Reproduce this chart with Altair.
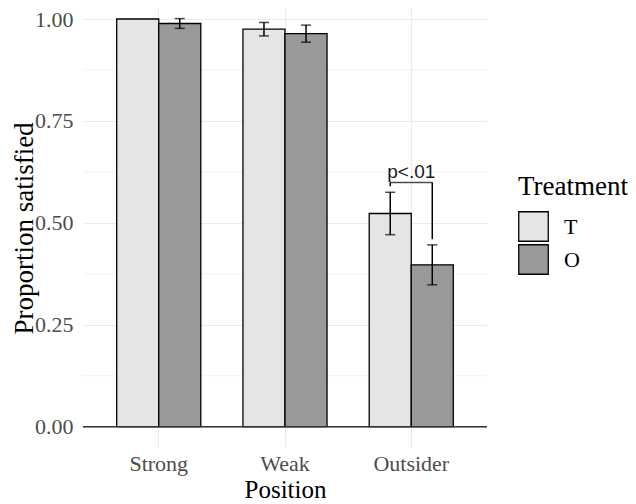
import altair as alt
import pandas as pd

positions = ["Strong", "Weak", "Outsider"]
treatments = ["T", "O"]
prop_T = [1.000, 0.975, 0.523]
prop_O = [0.989, 0.964, 0.397]
se_T = [0.0, 0.0165, 0.052]
se_O = [0.012, 0.021, 0.049]
fills = ["#e5e5e5", "#999999"]
y_ticks = [0.0, 0.25, 0.5, 0.75, 1.0]
y_minor = [0.125, 0.375, 0.625, 0.875]
bracket_top = 0.599
bracket_legs = [0.590, 0.460]
p_label = "p<.01"
p_label_y = 0.609

rows = []
for i, pos in enumerate(positions):
    rows.append({"Position": pos, "Treatment": "T", "prop": prop_T[i],
                 "ymin": prop_T[i] - se_T[i], "ymax": prop_T[i] + se_T[i], "se": se_T[i]})
    rows.append({"Position": pos, "Treatment": "O", "prop": prop_O[i],
                 "ymin": prop_O[i] - se_O[i], "ymax": prop_O[i] + se_O[i], "se": se_O[i]})
df = pd.DataFrame(rows)
err = df[df["se"] > 0]

SERIF = "Liberation Serif"
yscale = alt.Scale(domain=[-0.0498, 1.027], nice=False, zero=False)
xscale = alt.Scale(domain=positions, paddingInner=0.334, paddingOuter=0.267)
oscale = alt.Scale(domain=treatments, paddingInner=0, paddingOuter=0)
yaxis = alt.Axis(values=y_ticks, format=".2f", grid=True, gridColor="#ebebeb", gridWidth=1.1,
                 domain=False, ticks=False, tickSize=0, labelPadding=10,
                 labelFont=SERIF, labelFontSize=22, labelColor="#4d4d4d",
                 titleFont=SERIF, titleFontSize=27, titleFontWeight="normal",
                 titleColor="black", titleX=-51, titleY=220, titleAngle=270,
                 titleAlign="center", titleBaseline="alphabetic")
xaxis = alt.Axis(grid=True, gridColor="#ebebeb", gridWidth=1.1, bandPosition=0.5,
                 domain=False, ticks=False, tickSize=0, labelPadding=6, labelAngle=0,
                 labelFont=SERIF, labelFontSize=22, labelColor="#4d4d4d",
                 titleFont=SERIF, titleFontSize=25, titleFontWeight="normal",
                 titleColor="black", titleY=50, titleX=202, titleAlign="center",
                 titleBaseline="alphabetic")

def X():
    return alt.X("Position:N", scale=xscale, axis=xaxis, title="Position")

def Y(field):
    return alt.Y(field, scale=yscale, axis=yaxis, title="Proportion satisfied")

minor = alt.Chart(pd.DataFrame({"v": y_minor})).mark_rule(color="#efefef", strokeWidth=0.8).encode(
    y=Y("v:Q"))

bars = alt.Chart(df).mark_bar(stroke="black", strokeWidth=1.3).encode(
    x=X(),
    xOffset=alt.XOffset("Treatment:N", scale=oscale),
    y=Y("prop:Q"),
    y2=alt.datum(0),
    fill=alt.Fill("Treatment:N", scale=alt.Scale(domain=treatments, range=fills),
                  legend=alt.Legend(orient="none", legendX=435, legendY=166,
                                    title="Treatment", titleFont=SERIF, titleFontSize=27,
                                    titleFontWeight="normal", titleColor="black",
                                    titlePadding=10,
                                    labelFont=SERIF, labelFontSize=22, labelColor="black",
                                    labelOffset=15, symbolType="square", symbolSize=870,
                                    symbolStrokeColor="black", symbolStrokeWidth=1.3,
                                    symbolOpacity=1, rowPadding=-5)),
)

zero_line = alt.Chart(pd.DataFrame({"z": [0.0]})).mark_rule(color="#333333", strokeWidth=1.6).encode(
    y=Y("z:Q"))

err_rule = alt.Chart(err).mark_rule(color="black", strokeWidth=1.5).encode(
    x=X(),
    xOffset=alt.XOffset("Treatment:N", scale=oscale),
    y=Y("ymin:Q"),
    y2="ymax:Q",
)
err_lo = alt.Chart(err).mark_tick(color="black", size=10, thickness=1.5, orient="horizontal").encode(
    x=X(),
    xOffset=alt.XOffset("Treatment:N", scale=oscale),
    y=Y("ymin:Q"),
)
err_hi = alt.Chart(err).mark_tick(color="black", size=10, thickness=1.5, orient="horizontal").encode(
    x=X(),
    xOffset=alt.XOffset("Treatment:N", scale=oscale),
    y=Y("ymax:Q"),
)

legs_df = pd.DataFrame({"Position": ["Outsider", "Outsider"], "Treatment": treatments,
                        "top": [bracket_top, bracket_top], "bot": bracket_legs})
legs = alt.Chart(legs_df).mark_rule(color="black", strokeWidth=1.5).encode(
    x=X(),
    xOffset=alt.XOffset("Treatment:N", scale=oscale),
    y=Y("top:Q"),
    y2="bot:Q",
)
bar_top = alt.Chart(pd.DataFrame({"Position": ["Outsider"], "top": [bracket_top]})).mark_tick(
    color="black", size=42.5, thickness=1.5, orient="horizontal").encode(
    x=X(),
    y=Y("top:Q"),
)
ptext = alt.Chart(pd.DataFrame({"Position": ["Outsider"], "y": [p_label_y], "label": [p_label]})).mark_text(
    font="Liberation Sans", fontSize=19, baseline="alphabetic", align="center", color="#1a1a1a").encode(
    x=X(),
    y=Y("y:Q"),
    text="label:N",
)

chart = alt.layer(minor, bars, zero_line, err_rule, err_lo, err_hi, legs, bar_top, ptext).properties(
    width=404, height=439,
    padding={"left": 75, "top": 0, "right": 141, "bottom": 57},
    autosize=alt.AutoSizeParams(type="none"),
).configure_view(stroke=None)

chart.save("out.html", embed_options={"renderer": "svg", "actions": False})
